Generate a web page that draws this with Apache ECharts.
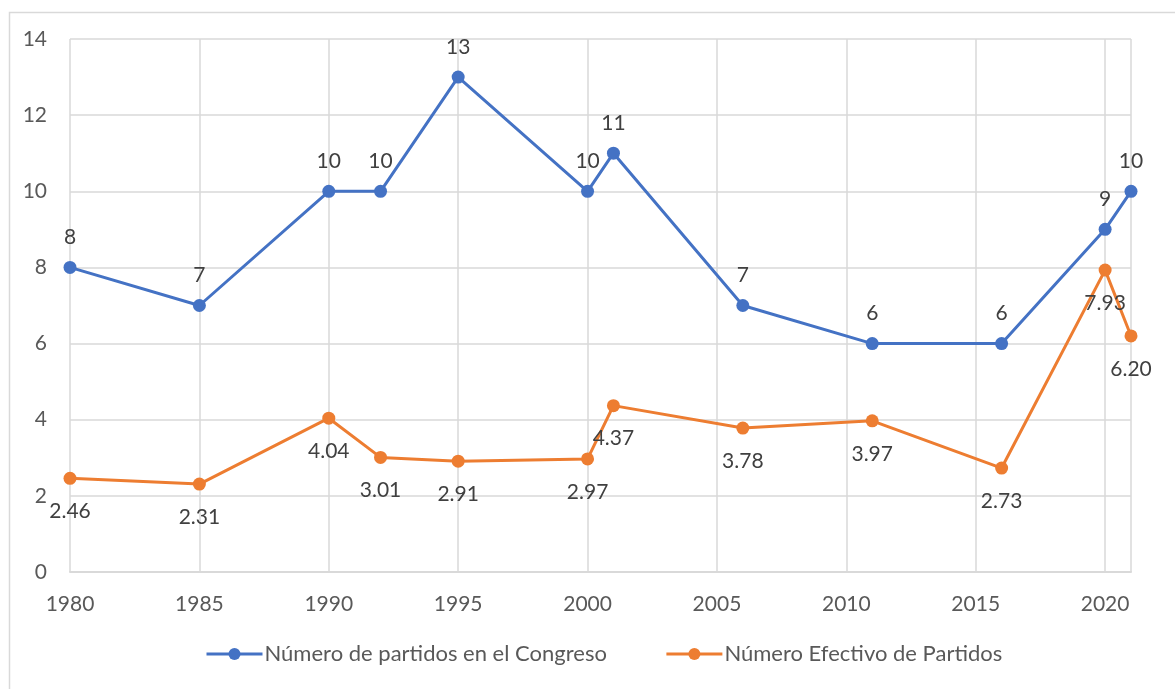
<!DOCTYPE html>
<html><head><meta charset="utf-8">
<script src="https://cdn.jsdelivr.net/npm/echarts@6/dist/echarts.min.js"></script>
<style>html,body{margin:0;padding:0;background:#fff}#c{width:1175px;height:689px}</style>
</head><body><div id="c"></div>
<script>
const years = [1980, 1985, 1990, 1992, 1995, 2000, 2001, 2006, 2011, 2016, 2020, 2021];
const partidosCongreso = [8, 7, 10, 10, 13, 10, 11, 7, 6, 6, 9, 10];
const partidosEfectivo = [2.46, 2.31, 4.04, 3.01, 2.91, 2.97, 4.37, 3.78, 3.97, 2.73, 7.93, 6.20];
const seriesNames = ['Número de partidos en el Congreso', 'Número Efectivo de Partidos'];

const FONT = 'Lato, "Open Sans", sans-serif';
const TXT = '#595959';
const chart = echarts.init(document.getElementById('c'), null, {renderer: 'canvas'});
chart.setOption({
  animation: false,
  backgroundColor: '#fff',
  textStyle: {fontFamily: FONT},
  graphic: [{
    type: 'rect', left: 7, top: 10, z: -1,
    shape: {width: 1300, height: 800},
    style: {fill: 'none', stroke: '#d9d9d9', lineWidth: 1.5}
  }],
  grid: {left: 70, right: 44, top: 39, bottom: 117},
  legend: {
    bottom: 19, left: 200, itemGap: 58, itemWidth: 56, itemHeight: 15,
    lineStyle: {width: 3},
    textStyle: {fontFamily: FONT, fontSize: 22, color: TXT, padding: [0, 0, 0, -3]},
    data: seriesNames
  },
  xAxis: {
    type: 'value', min: 1980, max: 2021, interval: 5,
    axisLine: {show: true, lineStyle: {color: '#d9d9d9', width: 2}},
    axisTick: {show: false},
    splitLine: {show: true, lineStyle: {color: '#d9d9d9', width: 1.5}},
    axisLabel: {color: TXT, fontSize: 21, fontFamily: FONT, margin: 22,
      formatter: v => (v % 5 === 0 ? String(v) : '')}
  },
  yAxis: {
    type: 'value', min: 0, max: 14, interval: 2,
    axisLine: {show: false}, axisTick: {show: false},
    splitLine: {lineStyle: {color: '#d9d9d9', width: 1.5}},
    axisLabel: {color: TXT, fontSize: 21, fontFamily: FONT, margin: 23}
  },
  series: [{
    name: seriesNames[0], type: 'line',
    data: years.map((y, i) => [y, partidosCongreso[i]]),
    color: '#4472C4', symbol: 'circle', symbolSize: 13,
    lineStyle: {width: 3},
    label: {show: true, position: 'top', distance: 13, color: '#404040', fontSize: 21, fontFamily: FONT,
      formatter: p => String(p.value[1])}
  }, {
    name: seriesNames[1], type: 'line',
    data: years.map((y, i) => [y, partidosEfectivo[i]]),
    color: '#ED7D31', symbol: 'circle', symbolSize: 13,
    lineStyle: {width: 3},
    label: {show: true, position: 'bottom', distance: 16, color: '#404040', fontSize: 21, fontFamily: FONT,
      formatter: p => p.value[1].toFixed(2)}
  }]
});
</script></body></html>
